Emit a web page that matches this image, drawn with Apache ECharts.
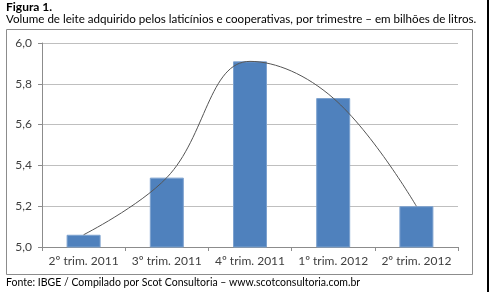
<!DOCTYPE html>
<html><head><meta charset="utf-8">
<script src="https://cdn.jsdelivr.net/npm/echarts@6/dist/echarts.min.js"></script>
<style>html,body{margin:0;padding:0;background:#fff}#c{width:489px;height:292px}</style>
</head><body><div id="c"></div>
<script>
var categories = ['2º trim. 2011', '3º trim. 2011', '4º trim. 2011', '1º trim. 2012', '2º trim. 2012'];
var volumes = [5.06, 5.34, 5.91, 5.73, 5.20];
var yTicks = {min: 5.0, max: 6.0, interval: 0.2};
var figLabel = 'Figura 1.';
var subtitle = 'Volume de leite adquirido pelos laticínios e cooperativas, por trimestre – em bilhões de litros.';
var source = 'Fonte: IBGE / Compilado por Scot Consultoria – www.scotconsultoria.com.br';

var FONT = 'Lato';
var chart = echarts.init(document.getElementById('c'), null, {renderer: 'canvas'});
chart.setOption({
  animation: false,
  textStyle: {fontFamily: FONT},
  grid: {left: 42, right: 31, top: 43, bottom: 45, containLabel: false},
  xAxis: {
    type: 'category', data: categories,
    axisLine: {lineStyle: {color: '#8c8c8c', width: 1}},
    axisTick: {show: true, length: 4, alignWithLabel: false, lineStyle: {color: '#8c8c8c'}},
    axisLabel: {color: '#404040', fontSize: 12, fontFamily: FONT, margin: 8, interval: 0}
  },
  yAxis: {
    type: 'value', min: yTicks.min, max: yTicks.max, interval: yTicks.interval,
    axisLine: {show: true, lineStyle: {color: '#8c8c8c', width: 1}},
    axisTick: {show: true, length: 4, lineStyle: {color: '#8c8c8c'}},
    axisLabel: {color: '#404040', fontSize: 12, fontFamily: FONT, margin: 10,
      formatter: function (v) { return v.toFixed(1).replace('.', ','); }},
    splitLine: {lineStyle: {color: '#bfbfbf', width: 1}}
  },
  series: [
    {type: 'bar', data: volumes, barWidth: 34,
     itemStyle: {color: '#4f81bd', borderColor: '#7da2cf', borderWidth: 1}},
    {type: 'line', data: volumes, smooth: 0.4, symbol: 'none', clip: true, z: 5,
     lineStyle: {color: '#555555', width: 1}}
  ],
  graphic: [
    {type: 'rect', shape: {x: 6.5, y: 29.5, width: 466, height: 245}, style: {fill: 'none', stroke: '#8c8c8c', lineWidth: 1}, z: -1},
    {type: 'rect', shape: {x: 487, y: 0, width: 2, height: 292}, style: {fill: '#000'}},
    {type: 'text', left: 6, top: 1, style: {text: figLabel, font: 'bold 12px ' + FONT, fill: '#000'}},
    {type: 'text', left: 6, top: 13, style: {text: subtitle, font: '11.6px ' + FONT, fill: '#000'}},
    {type: 'text', left: 6, top: 277, style: {text: source, font: '10.5px ' + FONT, fill: '#000'}}
  ]
});
</script></body></html>
